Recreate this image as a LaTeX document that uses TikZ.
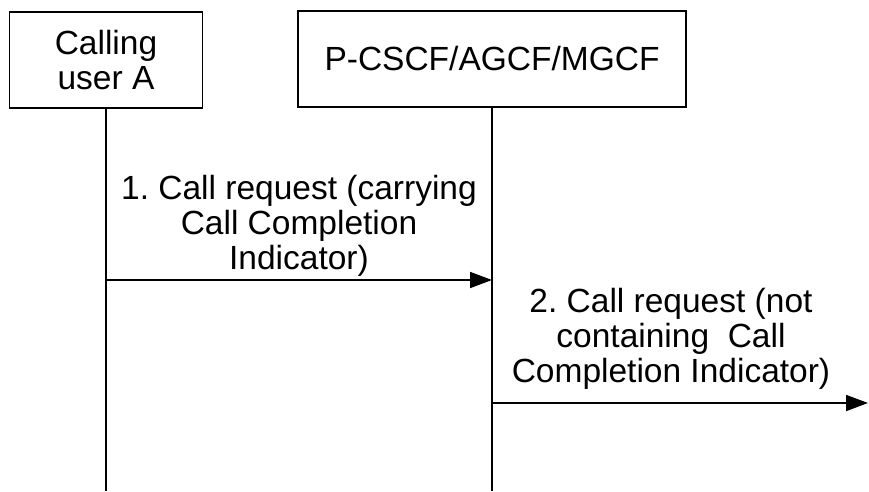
\documentclass[tikz,border=0pt]{standalone}
\usepackage{fontspec}
\setmainfont{Liberation Sans}
\frenchspacing
\usetikzlibrary{arrows.meta,positioning}
\tikzset{
  entity/.style={draw,line width=1.8pt,minimum height=96pt,align=center,inner sep=0pt},
  lifeline/.style={line width=1.8pt},
  msg/.style={line width=1.8pt,-{Triangle[length=22pt,width=16pt]}},
  msgtext/.style={align=center,inner sep=0pt,anchor=south}
}
\begin{document}
\begin{tikzpicture}[x=1pt,y=-1pt,font=\fontsize{33.5}{35}\selectfont]
\useasboundingbox (0,0) rectangle (869,491);

% Entities.
\node[entity,minimum width=193pt] (userA) at (106,60) {Calling\\user A};
\node[entity,minimum width=388pt] (pcscf) at (492,59) {P-CSCF/AGCF/MGCF};

% Rows of the messages.
\coordinate (bottom) at (0,491);
\coordinate (row1) at (0,280);
\coordinate (row2) at (0,403);
\coordinate (out) at (868,403);

% Lifelines.
\draw[lifeline] (userA.south) -- (userA.south |- bottom);
\draw[lifeline] (pcscf.south) -- (pcscf.south |- bottom);

% Messages.
\coordinate (m1a) at (userA.south |- row1);
\coordinate (m1b) at (pcscf.south |- row1);
\coordinate (m2a) at (pcscf.south |- row2);
\draw[msg] (m1a) -- (m1b);
\draw[msg] (m2a) -- (out);

\node[msgtext] (t1) at (299,277) {1. Call request (carrying\\Call Completion\\Indicator)};
\node[msgtext] (t2) at (671,390) {2. Call request (not\\containing\ \ Call\\Completion Indicator)};

\end{tikzpicture}
\end{document}
